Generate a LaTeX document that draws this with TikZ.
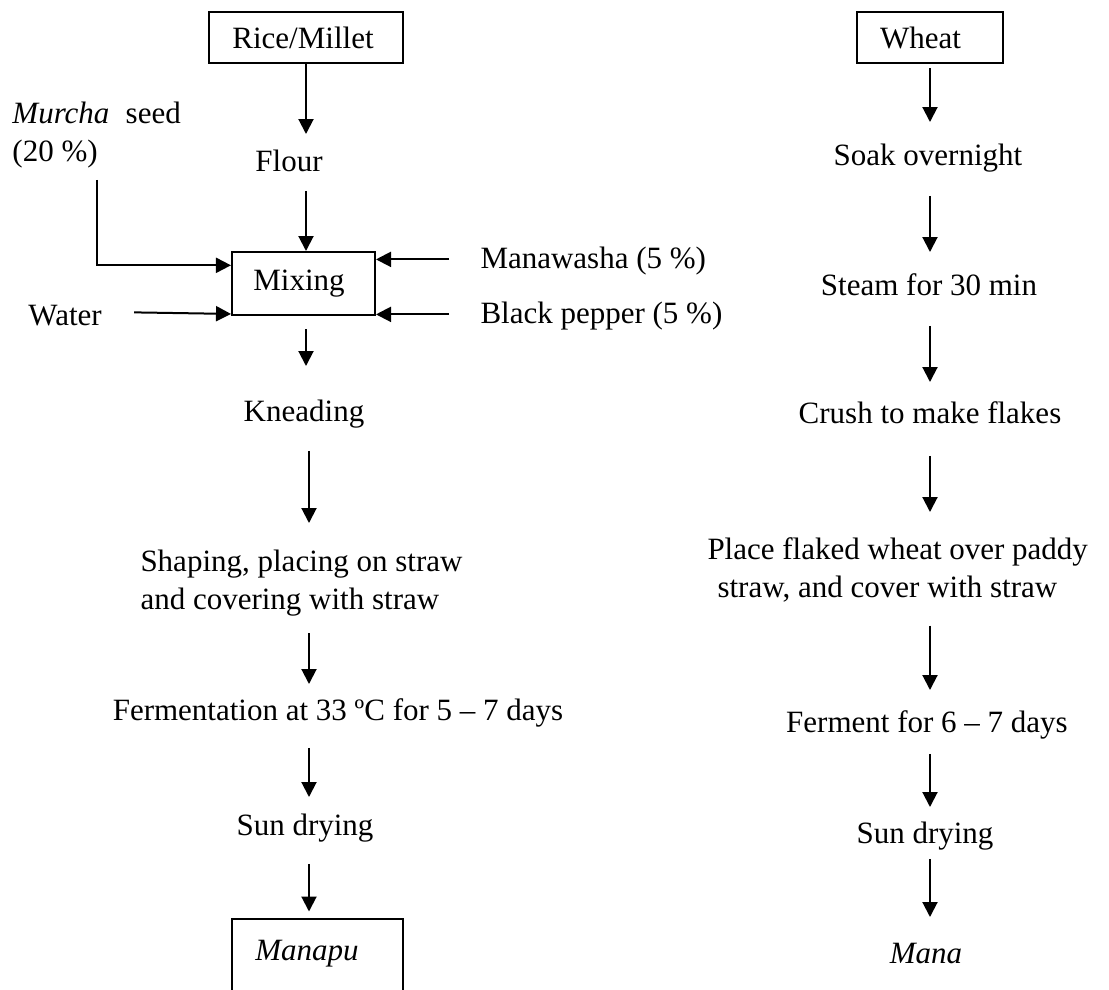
\documentclass[tikz,border=0pt]{standalone}
\usepackage{fontspec}
\setmainfont{Liberation Serif}
\usetikzlibrary{arrows.meta,calc}

\begin{document}
\begin{tikzpicture}[
  x=0.4pt, y=-0.4pt,
  every node/.style={font=\fontsize{12.4}{15.2}\selectfont, inner sep=0pt},
  label/.style={anchor=base, text height=0.7em, text depth=0.25em},
  labelw/.style={anchor=base west, text height=0.7em, text depth=0.25em},
  stepbox/.style={draw, line width=0.8pt},
  arr/.style={line width=0.8pt, -{Triangle[length=6pt,width=6pt]}},
  gap/.style 2 args={shorten <=#1*0.4pt, shorten >=#2*0.4pt}
]
\useasboundingbox (0,0) rectangle (1109,989);

% column axes of the two flows
\coordinate (cL)  at (306,0);
\coordinate (cL2) at (309,0);
\coordinate (cR)  at (930,0);

% ---------- Manapu (rice / millet) ----------
\node[stepbox, minimum width=77.6pt, minimum height=20.4pt] (rice) at (306,37.5) {Rice/Millet\kern2.4pt};
\node[label] (flour) at (289,171) {Flour};
\node[stepbox, minimum width=57.2pt, minimum height=25.2pt] (mixing) at (303.5,283.5) {Mixing\kern3.6pt};
\node[anchor=north west, align=left] (murcha) at (12,101.8) {\textit{Murcha}\hspace{6.5pt}seed\\(20 \%)};
\node[labelw] (water) at (28,325) {Water};
\node[labelw] (manawasha) at (480,268) {Manawasha (5 \%)};
\node[labelw] (pepper) at (480,323) {Black pepper (5 \%)};
\node[label] (knead) at (304,421) {Kneading};
\node[anchor=north west, align=left] (shaping) at (140,549) {Shaping, placing on straw\\and covering with straw};
\node[label] (ferm) at (338,720) {Fermentation at 33 ºC for 5 – 7 days};
\node[label] (sunL) at (305,835) {Sun drying};
\node[minimum width=67.6pt, minimum height=28pt] (manapu) at (317.5,954) {\textit{Manapu}\kern8.4pt};
\draw[line width=0.8pt] (manapu.south west) -- (manapu.north west) -- (manapu.north east) -- (manapu.south east);

\draw[arr, gap={0}{19}]  (cL |- rice.south)  -- (cL |- flour.north);
\draw[arr, gap={13}{0}]  (cL |- flour.south) -- (cL |- mixing.north);
\draw[arr, gap={13}{37}] (cL |- mixing.south) -- (cL |- knead.north);
\draw[arr, gap={23}{26}] (cL2 |- knead.south) -- (cL2 |- shaping.north);
\draw[arr, gap={17}{18}] (cL2 |- shaping.south) -- (cL2 |- ferm.north);
\draw[arr, gap={21}{20}] (cL2 |- ferm.south) -- (cL2 |- sunL.north);
\draw[arr, gap={22}{7}]  (cL2 |- sunL.south) -- (cL2 |- manapu.north);

% side inputs of the mixing step
\draw[arr] ([xshift=34pt, yshift=-4.4pt]murcha.south west) |- ($(mixing.north west)!0.22!(mixing.south west)$);
\draw[arr] ([xshift=12.8pt, yshift=2.8pt]water.east) -- ($(mixing.north west)!0.968!(mixing.south west)$);
\draw[arr] ([xshift=-12.4pt, yshift=1.2pt]manawasha.west) coordinate (mwa) -- (mixing.east |- mwa);
\draw[arr] ([xshift=-12.4pt, yshift=1.2pt]pepper.west) coordinate (bpa) -- (mixing.east |- bpa);

% ---------- Mana (wheat) ----------
\node[stepbox, minimum width=58.4pt, minimum height=20.4pt] (wheat) at (930,37.5) {Wheat\kern7.6pt};
\node[label] (soak) at (928,165) {Soak overnight};
\node[label] (steam) at (929,295) {Steam for 30 min};
\node[label] (crush) at (930,423) {Crush to make flakes};
\node[anchor=north west, align=left] (place) at (707,537) {Place flaked wheat over paddy\\\hspace*{4pt}straw, and cover with straw};
\node[label] (ferment) at (927,732) {Ferment for 6 – 7 days};
\node[label] (sunR) at (925,843) {Sun drying};
\node[label] (mana) at (926,963) {\textit{Mana}};

\draw[arr, gap={4}{25}]  (cR |- wheat.south) -- (cR |- soak.north);
\draw[arr, gap={24}{25}] (cR |- soak.south)  -- (cR |- steam.north);
\draw[arr, gap={24}{23}] (cR |- steam.south) -- (cR |- crush.north);
\draw[arr, gap={26}{25}] (cR |- crush.south) -- (cR |- place.north);
\draw[arr, gap={23}{24}] (cR |- place.south) -- (cR |- ferment.north);
\draw[arr, gap={15}{18}] (cR |- ferment.south) -- (cR |- sunR.north);
\draw[arr, gap={9}{28}]  (cR |- sunR.south)  -- (cR |- mana.north);
\end{tikzpicture}
\end{document}
